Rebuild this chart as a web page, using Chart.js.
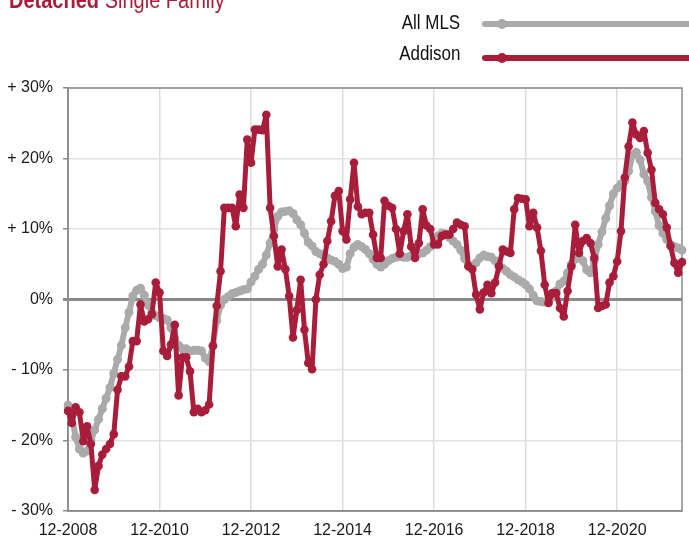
<!DOCTYPE html>
<html>
<head>
<meta charset="utf-8">
<script src="https://cdn.jsdelivr.net/npm/chart.js@4.4.1/dist/chart.umd.min.js"></script>
<style>
  html, body { margin: 0; padding: 0; background: #fff; overflow: hidden; }
  #wrap { position: relative; width: 689px; height: 538px; overflow: hidden; font-family: "Liberation Sans", Arial, sans-serif; }
  #chart { position: absolute; left: 0; top: 0; }
  .title { position: absolute; left: 9px; top: -11px; font-size: 23px; line-height: 23px; color: #a81d3a; white-space: nowrap; transform: scaleX(0.87); transform-origin: left top; }
  .title b { font-weight: bold; }
  .leg { position: absolute; right: 229px; font-size: 19.5px; line-height: 19.5px; color: #111; white-space: nowrap; transform: scaleX(0.87); transform-origin: right top; }
  .legline { position: absolute; left: 482px; width: 220px; height: 6px; border-radius: 3px; }
  .legdot { position: absolute; left: 497px; width: 10px; height: 10px; border-radius: 50%; }
</style>
</head>
<body>
<div id="wrap">
  <canvas id="chart" width="689" height="538"></canvas>
  <div class="title"><b>Detached</b> Single Family</div>
  <div class="leg" style="top:13px">All MLS</div>
  <div class="legline" style="top:21px;background:#aaaaaa"></div>
  <div class="legdot" style="top:19px;background:#aaaaaa"></div>
  <div class="leg" style="top:44px">Addison</div>
  <div class="legline" style="top:55px;background:#a81d3a"></div>
  <div class="legdot" style="top:53px;background:#a81d3a"></div>
</div>
<script>
// Year-over-year change, monthly, 12-2008 .. 05-2022
const startYear = 2008;
const startMonth = 12;
const tickLabels = ["12-2008", "12-2010", "12-2012", "12-2014", "12-2016", "12-2018", "12-2020"];

const addison = [
  -15.8, -17.5, -15.3, -16.0, -20.1, -18.0, -20.5, -27.0, -23.6, -22.0,
  -21.2, -20.5, -19.1, -12.8, -10.9, -10.9, -9.5, -5.9, -5.9, -0.7,
  -3.1, -2.8, -2.1, 2.4, 1.0, -7.3, -8.0, -6.4, -3.6, -13.6,
  -8.2, -8.2, -10.2, -16.0, -15.5, -16.0, -15.7, -14.9, -6.6, -0.9,
  4.0, 13.0, 13.0, 13.0, 10.4, 14.9, 13.0, 22.7, 19.4, 24.1,
  24.1, 24.0, 26.2, 13.0, 9.0, 4.7, 7.1, 4.3, 0.5, -5.4,
  -1.5, 2.8, -4.3, -9.0, -9.9, 0.0, 3.5, 5.0, 8.3, 11.1,
  14.7, 15.4, 9.7, 8.5, 14.2, 19.4, 13.2, 12.1, 12.3, 12.3,
  9.2, 5.9, 5.9, 14.0, 13.3, 13.0, 10.0, 6.5, 9.7, 12.1,
  7.5, 5.9, 8.0, 12.8, 10.5, 10.0, 7.8, 7.8, 9.0, 9.2,
  9.2, 10.0, 10.9, 10.6, 10.4, 4.7, 4.3, 0.7, -1.4, 1.0,
  2.1, 0.9, 2.4, 4.7, 7.1, 6.8, 6.6, 12.8, 14.4, 14.3,
  14.2, 10.4, 12.3, 10.2, 6.9, 2.1, -0.5, 0.9, 0.9, -1.2,
  -2.4, 1.2, 4.7, 10.6, 6.6, 8.3, 8.7, 8.0, 5.9, -1.2,
  -0.9, -0.7, 2.4, 3.3, 5.4, 9.7, 17.3, 21.7, 25.1, 23.4,
  22.9, 23.9, 20.8, 18.4, 13.7, 12.8, 12.1, 10.2, 7.6, 5.2,
  3.8, 5.3
];

const allMls = [
  -15.0, -16.5, -19.5, -21.2, -21.8, -21.5, -20.0, -18.5, -17.0, -15.5,
  -14.0, -12.5, -10.5, -8.5, -6.5, -4.0, -1.8, 0.5, 1.3, 1.6,
  0.6, -0.8, -1.8, -2.3, -2.6, -2.7, -2.9, -4.0, -5.5, -6.5,
  -7.0, -7.0, -7.3, -7.2, -7.2, -7.3, -8.3, -8.8, -6.5, -3.0,
  -0.8, 0.0, 0.4, 0.8, 1.0, 1.2, 1.4, 1.5, 2.5, 3.3,
  4.3, 5.0, 6.3, 8.0, 10.0, 11.8, 12.4, 12.5, 12.6, 12.2,
  11.3, 10.6, 9.4, 8.1, 7.6, 6.8, 6.5, 6.2, 5.9, 5.6,
  5.4, 5.0, 4.4, 4.6, 6.5, 7.4, 7.8, 7.5, 7.1, 6.5,
  5.7, 5.0, 4.6, 5.0, 5.5, 5.8, 6.0, 6.1, 6.0, 6.0,
  6.2, 6.4, 6.5, 6.6, 7.0, 7.5, 8.2, 9.0, 9.4, 9.3,
  8.8, 8.3, 7.8, 7.0, 5.8, 4.8, 4.8, 5.2, 5.9, 6.3,
  6.1, 6.0, 5.5, 4.9, 4.4, 4.0, 3.5, 3.2, 2.8, 2.5,
  2.1, 1.5, 0.6, -0.2, -0.3, -0.4, -0.3, 0.3, 1.2, 2.2,
  2.6, 3.8, 5.0, 5.7, 6.0, 5.5, 4.2, 3.8, 5.5, 7.8,
  9.6, 11.5, 13.3, 15.0, 15.8, 16.4, 16.8, 18.2, 20.5, 20.9,
  19.8, 17.8, 16.8, 14.5, 12.5, 10.5, 9.4, 8.5, 7.8, 7.5,
  7.3, 7.0
];

// month labels "MM-YYYY"
const months = [];
for (let i = 0; i < addison.length; i++) {
  const m = (startMonth - 1 + i) % 12 + 1;
  const y = startYear + Math.floor((startMonth - 1 + i) / 12);
  months.push(String(m).padStart(2, "0") + "-" + y);
}

const RED = "#a81d3a";
const GREY = "#aaaaaa";
const AXIS = "#8a8a8a";

// frame round the plot area
const framePlugin = {
  id: "frame",
  beforeDatasetsDraw(chart) {
    const a = chart.chartArea;
    const ctx = chart.ctx;
    ctx.save();
    ctx.strokeStyle = AXIS;
    ctx.lineWidth = 1.5;
    ctx.strokeRect(a.left, a.top, a.right - a.left, a.bottom - a.top);
    ctx.restore();
  },
};

new Chart(document.getElementById("chart").getContext("2d"), {
  type: "line",
  data: {
    labels: months,
    datasets: [
      {
        label: "Addison",
        data: addison,
        borderColor: RED,
        backgroundColor: RED,
        borderWidth: 5,
        borderJoinStyle: "round",
        borderCapStyle: "round",
        pointRadius: 4.3,
        pointBorderWidth: 0,
        pointBackgroundColor: RED,
        tension: 0,
        order: 0,
      },
      {
        label: "All MLS",
        data: allMls,
        borderColor: GREY,
        backgroundColor: GREY,
        borderWidth: 6,
        borderJoinStyle: "round",
        borderCapStyle: "round",
        pointRadius: 4.5,
        pointBorderWidth: 0,
        pointBackgroundColor: GREY,
        tension: 0,
        order: 1,
      },
    ],
  },
  options: {
    responsive: false,
    animation: false,
    devicePixelRatio: 1,
    layout: { padding: { top: 88, right: 7, left: 0, bottom: 0 } },
    plugins: {
      legend: { display: false },
      title: { display: false },
      tooltip: { enabled: false },
    },
    scales: {
      x: {
        type: "category",
        afterFit: (scale) => { scale.height = 27; },
        grid: {
          color: "#dddddd",
          lineWidth: 1.5,
          drawTicks: false,
        },
        border: { display: true, color: AXIS, width: 1.5 },
        ticks: {
          autoSkip: false,
          maxRotation: 0,
          padding: 10,
          color: "#1a1a1a",
          font: { family: "Liberation Sans", size: 16 },
          callback: function (value, index) {
            const lbl = months[index];
            return tickLabels.includes(lbl) ? lbl : null;
          },
        },
      },
      y: {
        min: -30,
        max: 30,
        afterFit: (scale) => { scale.width = 68; },
        grid: {
          color: (ctx) => (ctx.tick && ctx.tick.value === 0 ? AXIS : "#e2e2e2"),
          lineWidth: (ctx) => (ctx.tick && ctx.tick.value === 0 ? 3 : 1.5),
          drawTicks: true,
          tickLength: 5,
          tickColor: AXIS,
        },
        border: { display: true, color: AXIS, width: 1.5 },
        ticks: {
          stepSize: 10,
          padding: 10,
          color: "#1a1a1a",
          font: { family: "Liberation Sans", size: 16 },
          callback: function (value) {
            if (value > 0) return "+ " + value + "%";
            if (value < 0) return "- " + (-value) + "%";
            return "0%";
          },
        },
      },
    },
  },
  plugins: [framePlugin],
});
</script>
</body>
</html>
